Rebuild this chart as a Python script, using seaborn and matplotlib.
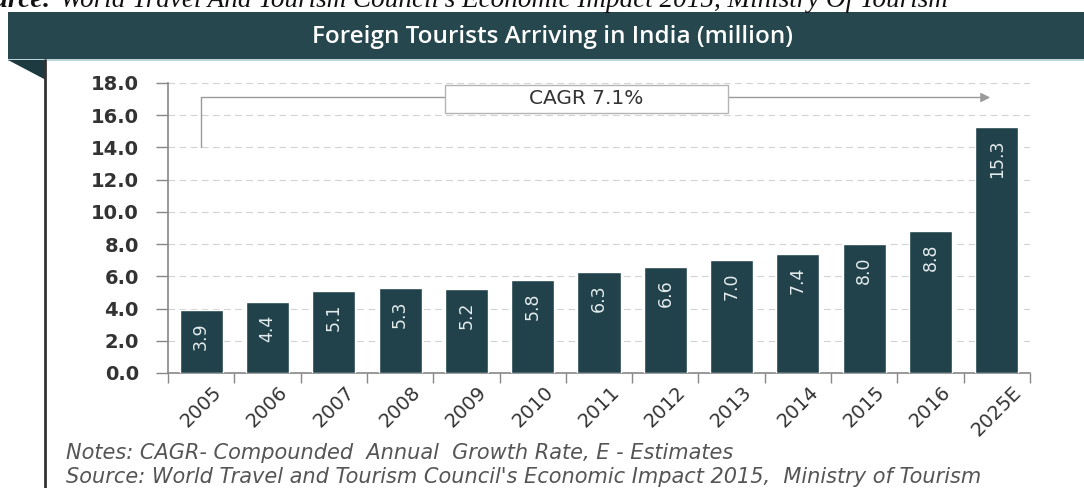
import numpy as np
import pandas as pd
import matplotlib
matplotlib.use("Agg")
import matplotlib.pyplot as plt
from matplotlib.patches import Rectangle, Polygon
import seaborn as sns

# ---- data ----
years = ["2005", "2006", "2007", "2008", "2009", "2010", "2011",
         "2012", "2013", "2014", "2015", "2016", "2025E"]
arrivals = [3.9, 4.4, 5.1, 5.3, 5.2, 5.8, 6.3, 6.6, 7.0, 7.4, 8.0, 8.8, 15.3]
yticks = [0, 2, 4, 6, 8, 10, 12, 14, 16, 18]
title = "Foreign Tourists Arriving in India (million)"
cagr_label = "CAGR 7.1%"
notes = "Notes: CAGR- Compounded  Annual  Growth Rate, E - Estimates"
source = "Source: World Travel and Tourism Council's Economic Impact 2015,  Ministry of Tourism"
top_source_bold = "Source:"
top_source_rest = "World Travel And Tourism Council's Economic Impact 2015, Ministry Of Tourism"

df = pd.DataFrame({"year": years, "arrivals": arrivals})

sns.set_theme(style="white")
plt.rcParams["font.family"] = ["DejaVu Sans"]

W, H = 1084, 488
fig = plt.figure(figsize=(W / 100, H / 100), dpi=100)
fig.patch.set_facecolor("white")

def fx(px):
    return px / W

def fy(py):
    return 1 - py / H

# banner
banner_col = "#27474f"
fig.patches.append(Rectangle((fx(8), fy(60)), fx(W) - fx(8), fy(12) - fy(60),
                             transform=fig.transFigure, facecolor=banner_col,
                             edgecolor="none", zorder=0))
fig.patches.append(Rectangle((fx(8), fy(61)), 1 - fx(8), fy(59) - fy(61),
                             transform=fig.transFigure, facecolor="#bcd3d8",
                             edgecolor="none", zorder=0))
fig.patches.append(Polygon([(fx(8), fy(60)), (fx(46), fy(60)), (fx(46), fy(80))],
                           closed=True, transform=fig.transFigure,
                           facecolor="#1d3a41", edgecolor="none", zorder=1))
fig.lines.append(plt.Line2D([fx(45), fx(45)], [fy(60), 0], transform=fig.transFigure,
                            color="#333333", lw=2))

fig.text(fx(552), fy(37), title, color="white", fontsize=17.5, family="Open Sans",
         weight="semibold", ha="center", va="center")

# cropped text at very top
fig.text(fx(52), fy(7), top_source_bold, family="Liberation Serif", style="italic",
         weight="bold", fontsize=19.5, ha="right", va="baseline", color="#111111")
fig.text(fx(60), fy(7), top_source_rest, family="Liberation Serif", style="italic",
         fontsize=19.5, ha="left", va="baseline", color="#111111")

# axes
ax = fig.add_axes([fx(168), fy(373), fx(1030) - fx(168), fy(83) - fy(373)])
ax.set_facecolor("none")
sns.barplot(data=df, x="year", y="arrivals", color="#22424b", saturation=1,
            width=0.65, ax=ax, zorder=3)
ax.set_xlim(-0.5, len(years) - 0.5)
ax.set_ylim(0, 18)
ax.set_yticks(yticks)
ax.set_yticklabels([f"{v:.1f}" for v in yticks], fontsize=14, weight="bold",
                   color="#333333")
ax.set_xlabel("")
ax.set_ylabel("")
ax.set_xticks(range(len(years)))
ax.set_xticklabels(years, rotation=45, ha="center", fontsize=14, color="#333333")
ax.set_xticks(np.arange(-0.5, len(years), 1), minor=True)
ax.tick_params(axis="x", which="major", length=0, pad=7)
ax.tick_params(axis="x", which="minor", length=7, width=1, color="#888888",
               direction="out", bottom=True)
ax.tick_params(axis="y", length=9, width=1, color="#888888", direction="out",
               pad=12, left=True)
for s in ["top", "right"]:
    ax.spines[s].set_visible(False)
for s in ["left", "bottom"]:
    ax.spines[s].set_color("#888888")
    ax.spines[s].set_linewidth(1.2)
ax.yaxis.grid(True, linestyle=(0, (6, 4)), color="#d2d2d2", lw=0.8)
ax.set_axisbelow(True)

for i, v in enumerate(arrivals):
    ax.annotate(f"{v:.1f}", xy=(i, v), xytext=(0, -9), textcoords="offset points",
                rotation=90, ha="center", va="top", color="#e4ecee", fontsize=12.5,
                zorder=4)

# CAGR annotation
ax.plot([0, 0], [14.0, 17.1], color="#9a9a9a", lw=1, zorder=2)
ax.annotate("", xy=(11.9, 17.1), xytext=(0, 17.1),
            arrowprops=dict(arrowstyle="-|>", color="#9a9a9a", lw=1,
                            mutation_scale=14, shrinkA=0, shrinkB=0), zorder=2)
ax.add_patch(Rectangle((3.68, 16.15), 7.95 - 3.68, 17.9 - 16.15, facecolor="white",
                       edgecolor="#b5b5b5", lw=1, zorder=5))
ax.text(5.8, 17.03, cagr_label, ha="center", va="center", fontsize=14.5,
        color="#333333", zorder=6)

# notes
fig.text(fx(66), fy(453), notes, fontsize=15, style="italic", color="#555555",
         ha="left", va="center")
fig.text(fx(66), fy(477), source, fontsize=15, style="italic", color="#555555",
         ha="left", va="center")

fig.savefig("out.png", dpi=100)
